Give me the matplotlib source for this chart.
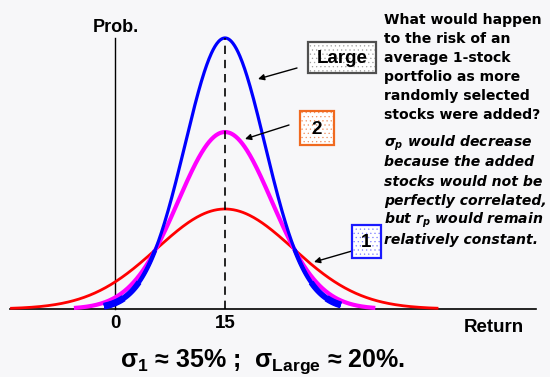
import numpy as np
import matplotlib
matplotlib.use('Agg')
import matplotlib.pyplot as plt
import matplotlib.patches as patches

plt.rcParams['mathtext.fontset'] = 'custom'
plt.rcParams['mathtext.rm'] = 'Liberation Sans:bold'
plt.rcParams['mathtext.it'] = 'DejaVu Sans:bold:italic'

# return distributions: 1 stock, 2 stocks, large portfolio
names = ['1', '2', 'Large']
mean_ret = 15
sigmas = [9.27, 6.41, 5.45]
peaks = [0.369, 0.653, 1.0]
x_from = [-14.3, -5.6, -1.5]
x_to = [44.1, 35.5, 30.8]
colors = ['#ff0000', '#ff00ff', '#0000ff']
widths = [2.0, 3.0, 2.3]

xticks = [0, 15]

bg = '#f7f7f9'
fig = plt.figure(figsize=(5.5, 3.77), dpi=100, facecolor=bg)

# pixel scale: 15 return units span 110 px, y=1 is 271 px
ppu = 110 / 15
ax = fig.add_axes([0, 0, 1, 1])
ax.set_xlim((0 - 115) / ppu, (550 - 115) / ppu)
ax.set_ylim((309 - 377) / 271, 309 / 271)
ax.axis('off')
ax.set_facecolor(bg)

for s, pk, a, b, c, w in zip(sigmas, peaks, x_from, x_to, colors, widths):
    x = np.linspace(a, b, 400)
    y = pk * np.exp(-(x - mean_ret) ** 2 / (2 * s ** 2))
    ax.plot(x, y, color=c, lw=w, solid_capstyle='butt', zorder=3)
    if c == '#0000ff':
        # tails of the large-portfolio curve are drawn heavier
        for lim, lw in [(0.22, 3.2), (0.1, 4.2), (0.04, 5.0)]:
            m = y < lim
            left = m & (x < mean_ret)
            right = m & (x > mean_ret)
            ax.plot(x[left], y[left], color=c, lw=lw, solid_capstyle='butt', zorder=3)
            ax.plot(x[right], y[right], color=c, lw=lw, solid_capstyle='butt', zorder=3)

# axes
ax.plot([(10 - 115) / ppu, (536 - 115) / ppu], [0, 0], color='black', lw=1.2, zorder=2)
ax.plot([0, 0], [0, 1.0], color='black', lw=1.0, zorder=2)
ax.plot([mean_ret, mean_ret], [0, 1.0], color='black', lw=1.2,
        dashes=(5, 3.5), zorder=4)

for t in xticks:
    ax.text(t, -14 / 271, str(t), ha='center', va='center',
            fontsize=13.5, fontweight='bold', family='Liberation Sans')

# overlay in pixel coordinates for labels, boxes and arrows
ov = fig.add_axes([0, 0, 1, 1])
ov.set_xlim(0, 550)
ov.set_ylim(377, 0)
ov.axis('off')
ov.patch.set_alpha(0)

ov.text(116, 27, 'Prob.', ha='center', va='center', fontsize=13,
        fontweight='bold', family='Liberation Sans')
ov.text(494, 327, 'Return', ha='center', va='center', fontsize=13.5,
        fontweight='bold', family='Liberation Sans')


def label_box(x0, y0, x1, y1, text, edge, dots):
    ov.add_patch(patches.Rectangle((x0, y0), x1 - x0, y1 - y0, facecolor='white',
                                   edgecolor=dots, hatch='....', lw=0, zorder=5))
    ov.add_patch(patches.Rectangle((x0, y0), x1 - x0, y1 - y0, facecolor='none',
                                   edgecolor=edge, lw=1.6, zorder=6))
    ov.text((x0 + x1) / 2, (y0 + y1) / 2 + 1, text, ha='center', va='center',
            fontsize=13.5, fontweight='bold', family='Liberation Sans', zorder=7)


plt.rcParams['hatch.linewidth'] = 0.4
label_box(308, 42, 376, 73, 'Large', '#505050', '#a0a0a0')
label_box(300, 111, 334, 145, '2', '#f06a20', '#f09060')
label_box(352, 225, 381, 258, '1', '#1a1aff', '#8080ff')

arrow = dict(arrowstyle='-|>', color='black', lw=1.0, mutation_scale=9,
             shrinkA=0, shrinkB=0)
ov.annotate('', xy=(258, 79), xytext=(297, 68), arrowprops=arrow)
ov.annotate('', xy=(245, 139), xytext=(289, 125), arrowprops=arrow)
ov.annotate('', xy=(314, 262), xytext=(352, 251), arrowprops=arrow)

question = ['What would happen', 'to the risk of an', 'average 1-stock',
            'portfolio as more', 'randomly selected', 'stocks were added?']
answer = [r'$\sigma_p$ would decrease', 'because the added',
          'stocks would not be', 'perfectly correlated,',
          r'but $r_p$ would remain', 'relatively constant.']

for i, line in enumerate(question):
    ov.text(384, 20 + 19 * i, line, ha='left', va='center', fontsize=10.1,
            fontweight='bold', family='DejaVu Sans')
for i, line in enumerate(answer):
    ov.text(384, 143 + 19.4 * i, line, ha='left', va='center', fontsize=10.1,
            fontweight='bold', style='italic', family='DejaVu Sans')

ov.text(263, 362, r'$\mathrm{\sigma_1}$ ≈ 35% ;  $\mathrm{\sigma_{Large}}$ ≈ 20%.',
        ha='center', va='center', fontsize=18, fontweight='bold',
        family='Liberation Sans')

fig.savefig('out.png', dpi=100, facecolor=bg)
